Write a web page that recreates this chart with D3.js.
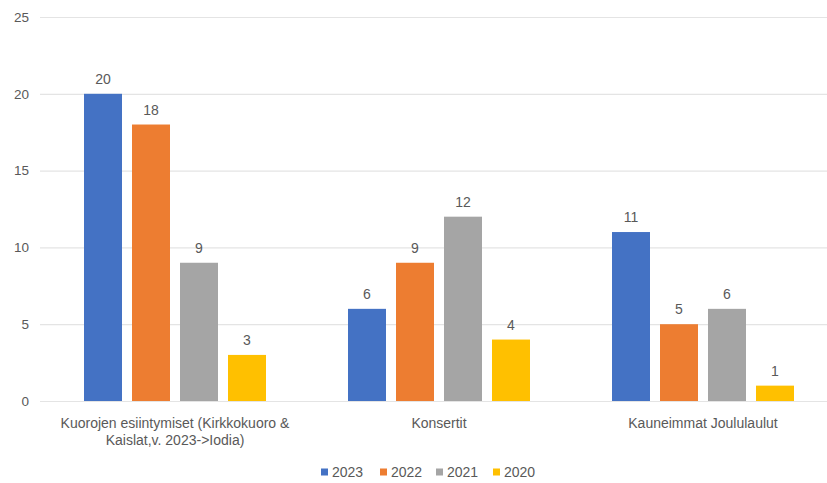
<!DOCTYPE html>
<html>
<head>
<meta charset="utf-8">
<script src="https://cdn.jsdelivr.net/npm/d3@7"></script>
<style>
  html, body { margin: 0; padding: 0; background: #fff; }
  svg { display: block; }
  text { font-family: "Liberation Sans", Arial, sans-serif; fill: #595959; }
</style>
</head>
<body>
<svg id="chart" width="827" height="483"></svg>
<script>
const categories = [
  ["Kuorojen esiintymiset (Kirkkokuoro &", "Kaislat,v. 2023->Iodia)"],
  ["Konsertit"],
  ["Kauneimmat Joululaulut"]
];
const seriesNames = ["2023", "2022", "2021", "2020"];
const values2023 = [20, 6, 11];
const values2022 = [18, 9, 5];
const values2021 = [9, 12, 6];
const values2020 = [3, 4, 1];
const yTicks = [0, 5, 10, 15, 20, 25];
const colors = ["#4472C4", "#ED7D31", "#A5A5A5", "#FFC000"];

const series = [values2023, values2022, values2021, values2020];
const svg = d3.select("#chart");
const W = 827, H = 483;
const plotLeft = 43, plotRight = 835, plotTop = 17, plotBottom = 401;

const x0 = d3.scaleBand().domain(d3.range(categories.length)).range([plotLeft, plotRight]).paddingInner(0).paddingOuter(0);
const groupW = 182;
const x1 = d3.scaleBand().domain(d3.range(seriesNames.length)).range([0, groupW]).paddingInner(10 / 48).paddingOuter(0);
const y = d3.scaleLinear().domain([0, 25]).range([plotBottom, plotTop]);

// gridlines
svg.append("g").selectAll("line").data(yTicks).join("line")
  .attr("x1", plotLeft - 3).attr("x2", W)
  .attr("y1", d => y(d) + 0.5).attr("y2", d => y(d) + 0.5)
  .attr("stroke", "#e4e4e4").attr("stroke-width", 1.2);

// y labels
svg.append("g").selectAll("text").data(yTicks).join("text")
  .attr("x", 29).attr("y", d => y(d)).attr("dy", "0.35em")
  .attr("text-anchor", "end").attr("font-size", 13.5).text(d => d);

// bars
const groups = svg.append("g").selectAll("g").data(categories).join("g")
  .attr("transform", (d, i) => `translate(${x0(i) + (x0.bandwidth() - groupW) / 2},0)`);

groups.each(function(c, ci) {
  const g = d3.select(this);
  series.forEach((s, si) => {
    g.append("rect")
      .attr("x", x1(si)).attr("width", x1.bandwidth())
      .attr("y", y(s[ci])).attr("height", y(0) - y(s[ci]))
      .attr("fill", colors[si]);
    g.append("text")
      .attr("x", x1(si) + x1.bandwidth() / 2).attr("y", y(s[ci]) - 10)
      .attr("text-anchor", "middle").attr("font-size", 14)
      .text(s[ci]);
  });
});

// category labels
svg.append("g").selectAll("text").data(categories).join("text")
  .attr("x", (d, i) => x0(i) + x0.bandwidth() / 2)
  .attr("y", 428)
  .attr("text-anchor", "middle").attr("font-size", 14)
  .each(function(lines) {
    const t = d3.select(this);
    lines.forEach((l, li) => {
      t.append("tspan").attr("x", t.attr("x")).attr("dy", li === 0 ? 0 : 17).text(l);
    });
  });

// legend
const legendX = [321, 380, 436, 493];
const lg = svg.append("g").selectAll("g").data(seriesNames).join("g")
  .attr("transform", (d, i) => `translate(${legendX[i]},472)`);
lg.append("rect").attr("x", 0).attr("y", -3.5).attr("width", 7).attr("height", 7)
  .attr("fill", (d, i) => colors[i]);
lg.append("text").attr("x", 11).attr("y", 0).attr("dy", "0.35em")
  .attr("font-size", 14).text(d => d);
</script>
</body>
</html>
